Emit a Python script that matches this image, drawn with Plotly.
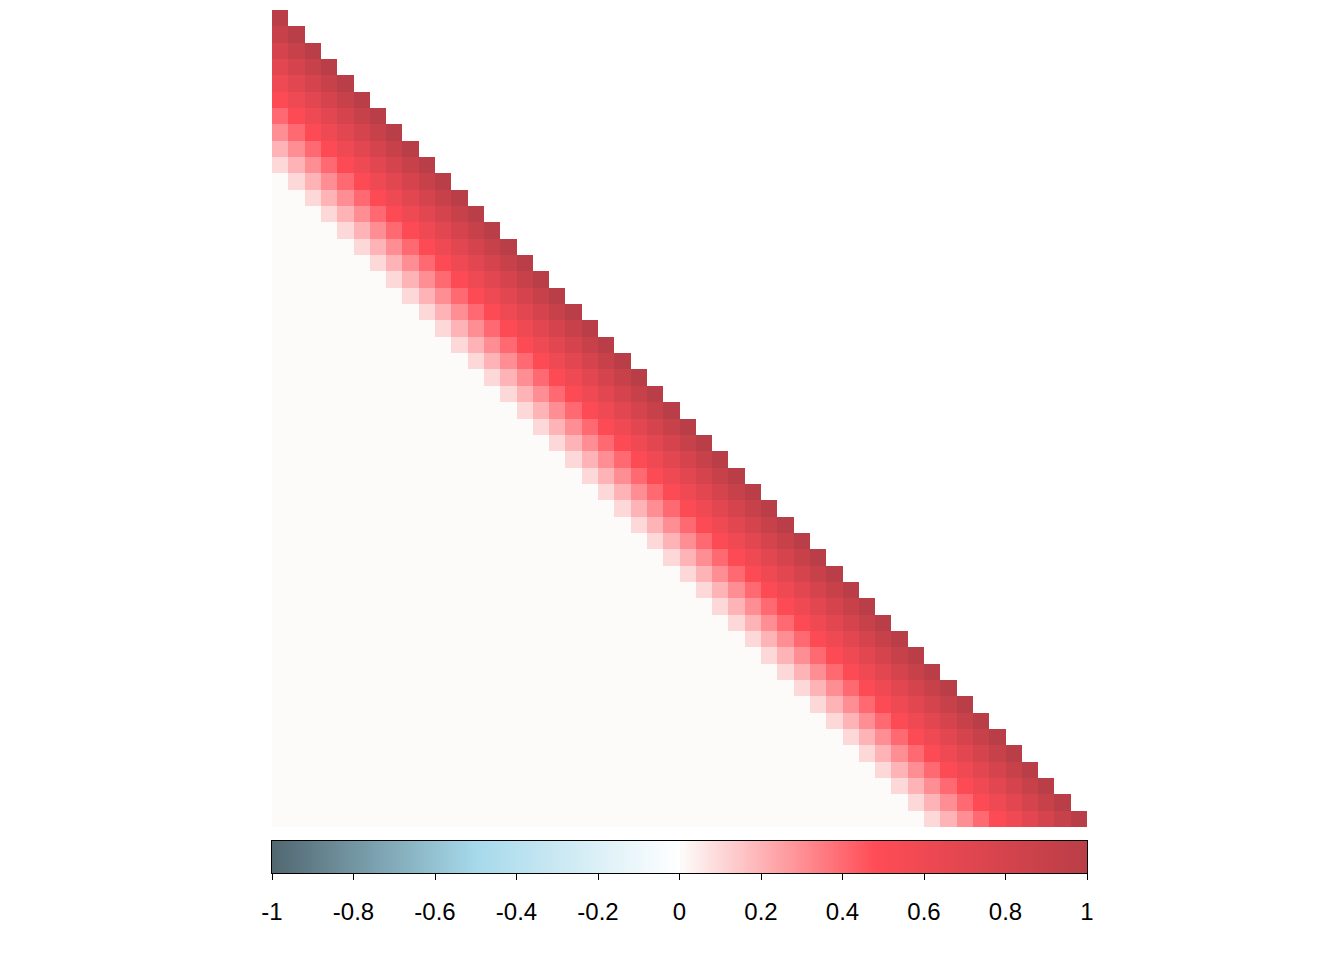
import numpy as np
import plotly.graph_objects as go

# Correlation by lag |i-j|, 50 variables
n_vars = 50
lag_corr = [1.0, 0.9, 0.8, 0.7, 0.6, 0.5, 0.4, 0.3, 0.2, 0.1, 0.005]
far_corr = 0.005
labels = [f"V{i+1}" for i in range(n_vars)]

tick_vals = [-1, -0.8, -0.6, -0.4, -0.2, 0, 0.2, 0.4, 0.6, 0.8, 1]
tick_text = ["-1", "-0.8", "-0.6", "-0.4", "-0.2", "0", "0.2", "0.4", "0.6", "0.8", "1"]

colorscale = [
    [0.0, "rgb(80,103,112)"],
    [0.25, "rgb(166,217,235)"],
    [0.5, "rgb(255,255,255)"],
    [0.5025, "rgb(253,251,249)"],
    [0.74, "rgb(255,76,86)"],
    [1.0, "rgb(186,62,71)"],
]

z = []
for i in range(n_vars):
    row = []
    for j in range(n_vars):
        if j > i:
            row.append(None)
        else:
            k = i - j
            row.append(lag_corr[k] if k < len(lag_corr) else far_corr)
    z.append(row)

W, H = 1344, 960
x0, x1 = 272, 1087
y0, y1 = 10, 827
cb_top, cb_bot = 841, 873

fig = go.Figure()
fig.add_trace(go.Heatmap(
    z=z, x=list(range(n_vars)), y=list(range(n_vars)),
    colorscale=colorscale, zmin=-1, zmax=1, showscale=False,
    xaxis="x", yaxis="y", hoverongaps=False,
))

grad = np.linspace(-1, 1, 401)
fig.add_trace(go.Heatmap(
    z=[grad.tolist()], x=grad.tolist(), y=[0],
    colorscale=colorscale, zmin=-1, zmax=1, showscale=False,
    xaxis="x2", yaxis="y2", hoverinfo="skip",
))

fig.update_layout(
    width=W, height=H,
    margin=dict(l=0, r=0, t=0, b=0, pad=0),
    paper_bgcolor="white", plot_bgcolor="white",
    showlegend=False,
    font=dict(family="Liberation Sans", color="black"),
    xaxis=dict(domain=[x0 / W, x1 / W], range=[-0.5, n_vars - 0.5],
               visible=False, showgrid=False, zeroline=False),
    yaxis=dict(domain=[1 - y1 / H, 1 - y0 / H], range=[n_vars - 0.5, -0.5],
               visible=False, showgrid=False, zeroline=False),
    xaxis2=dict(domain=[x0 / W, x1 / W], range=[-1, 1], anchor="y2",
                showline=True, mirror=True, linecolor="black", linewidth=1.3,
                ticks="outside", ticklen=6, tickwidth=1, tickcolor="black",
                tickmode="array", tickvals=tick_vals, ticktext=tick_text,
                tickfont=dict(family="Liberation Sans", size=24, color="black"),
                ticklabelstandoff=11, automargin=False,
                showgrid=False, zeroline=False),
    yaxis2=dict(domain=[1 - cb_bot / H, 1 - cb_top / H], range=[-0.5, 0.5],
                anchor="x2", showline=True, mirror=True, linecolor="black",
                linewidth=1.3, showticklabels=False, ticks="",
                automargin=False, showgrid=False, zeroline=False),
)

fig.write_html(
    "out.html",
    config={"displayModeBar": False},
    post_script="document.body.style.margin='0';document.body.style.overflow='hidden';",
)
